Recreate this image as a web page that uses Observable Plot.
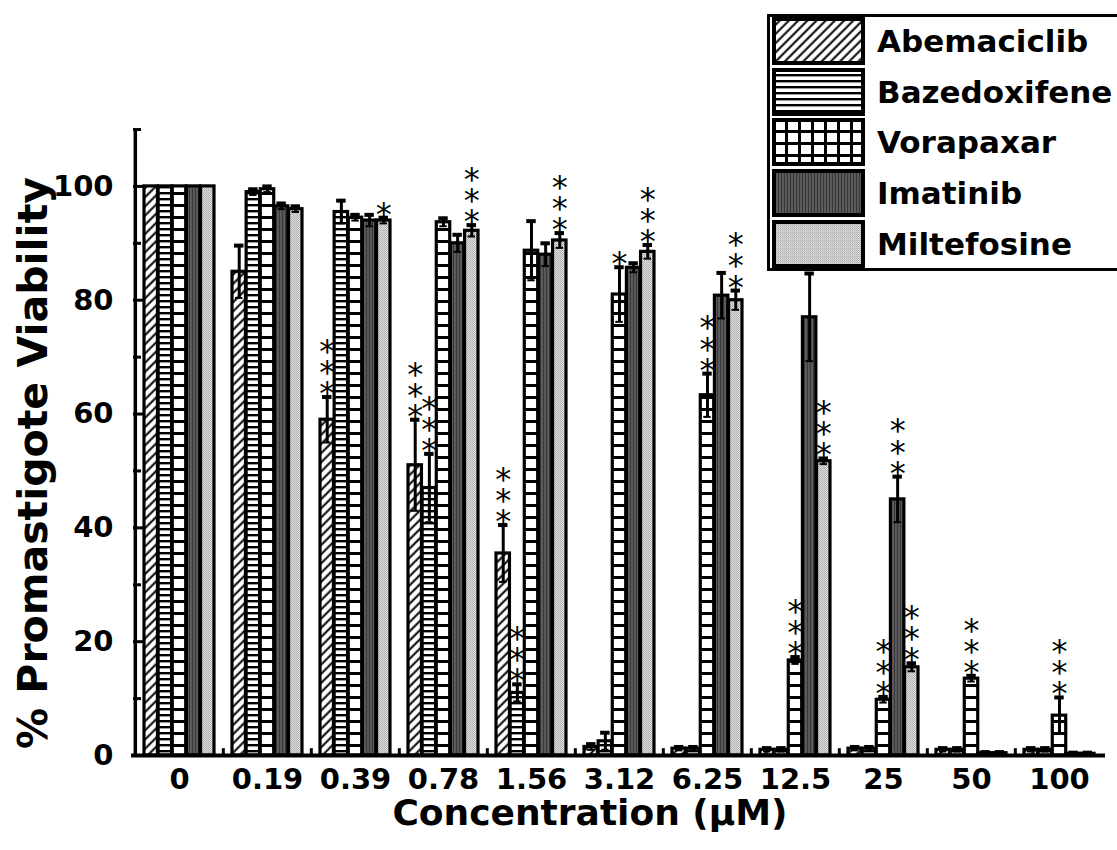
<!DOCTYPE html>
<html>
<head>
<meta charset="utf-8">
<script src="https://cdn.jsdelivr.net/npm/d3@7"></script>
<script src="https://cdn.jsdelivr.net/npm/@observablehq/plot@0.6"></script>
<style>
  body { margin: 0; background: #fff; }
  #wrap { position: relative; width: 1117px; height: 850px; overflow: hidden; background: #fff; font-family: "DejaVu Sans", sans-serif; }
  #legend { position: absolute; left: 767px; top: 14px; width: 360px; height: 251px; border: 3px solid #000; background: #fff; box-sizing: content-box; }
  .lg-text { position: absolute; left: 877px; font-size: 31px; font-weight: bold; line-height: 48px; height: 48px; white-space: nowrap; color: #000; }
  .lg-swatch { position: absolute; left: 772px; }
  #ytitle { position: absolute; left: 33px; top: 463px; transform: translate(-50%, -50%) rotate(-90deg); font-size: 41px; font-weight: bold; white-space: nowrap; }
  #xtitle { position: absolute; left: 590px; top: 794px; transform: translateX(-50%); font-size: 36px; font-weight: bold; white-space: nowrap; line-height: 38px; }
  #defs { position: absolute; width: 0; height: 0; }
</style>
</head>
<body>
<div id="wrap">
  <svg id="defs" width="0" height="0">
    <defs>
      <pattern id="pAbe" patternUnits="userSpaceOnUse" width="6.5" height="6.5" patternTransform="rotate(45)">
        <rect width="6.5" height="6.5" fill="#fff"/>
        <line x1="1.5" y1="0" x2="1.5" y2="6.5" stroke="#000" stroke-width="2"/>
      </pattern>
      <pattern id="pBaz" patternUnits="userSpaceOnUse" width="6" height="6">
        <rect width="6" height="6" fill="#fff"/>
        <rect y="0" width="6" height="2.4" fill="#000"/>
      </pattern>
      <pattern id="pVor" patternUnits="userSpaceOnUse" width="12" height="12">
        <rect width="12" height="12" fill="#fff"/>
        <rect y="0" width="12" height="3" fill="#000"/>
      </pattern>
      <pattern id="pVorLeg" patternUnits="userSpaceOnUse" width="13" height="12">
        <rect width="13" height="12" fill="#fff"/>
        <rect y="0" width="13" height="3" fill="#000"/>
        <rect x="0" width="3" height="12" fill="#000"/>
      </pattern>
      <pattern id="pIma" patternUnits="userSpaceOnUse" width="3" height="3">
        <rect width="3" height="3" fill="#5a5a5a"/>
        <rect width="1" height="3" fill="#383838"/>
      </pattern>
      <pattern id="pMil" patternUnits="userSpaceOnUse" width="2" height="2">
        <rect width="2" height="2" fill="#dedede"/>
        <rect width="1" height="1" fill="#a8a8a8"/>
        <rect x="1" y="1" width="1" height="1" fill="#bcbcbc"/>
      </pattern>
    </defs>
  </svg>
  <div id="chart"></div>
  <div id="legend"></div>
  <div id="ytitle">% Promastigote Viability</div>
  <div id="xtitle">Concentration (µM)</div>
</div>
<script>
// ---------------- data ----------------
const concs = ["0", "0.19", "0.39", "0.78", "1.56", "3.12", "6.25", "12.5", "25", "50", "100"];
const drugs = ["Abemaciclib", "Bazedoxifene", "Vorapaxar", "Imatinib", "Miltefosine"];

const abemaciclib    = [100, 85,   59,   51,   35.5, 1.5, 1.2,  1,    1.2,  1,    1];
const abemaciclibErr = [0,   4.6,  4,    8,    5,    0.5, 0.3,  0.3,  0.3,  0.3,  0.3];
const bazedoxifene    = [100, 99,  95.5, 47,   11,   2.5, 1.2,  1,    1.2,  1,    1];
const bazedoxifeneErr = [0,   0.5, 2,    6,    1.5,  1.5, 0.3,  0.3,  0.3,  0.3,  0.3];
const vorapaxar    = [100, 99.5, 94.5, 93.7, 88.7, 81,  63.3, 16.7, 9.8,  13.5, 7];
const vorapaxarErr = [0,   0.5,  0.5,  0.7,  5.2,  4.8, 3.8,  0.6,  0.5,  0.5,  3.2];
const imatinib    = [100, 96.5, 94,   90,   88,   85.7, 80.8, 77,  45,   0.4,  0.3];
const imatinibErr = [0,   0.5,  1,    1.5,  2,    0.8,  4,    7.7, 4,    0.2,  0.2];
const miltefosine    = [100, 96,  94,   92.2, 90.5, 88.5, 80,  51.7, 15.5, 0.4, 0.3];
const miltefosineErr = [0,   0.5, 0.5,  1,    1.3,  1.2,  1.7, 0.5,  0.7,  0.2, 0.2];

const abemaciclibSig  = ["", "", "***", "***", "***", "", "", "", "", "", ""];
const bazedoxifeneSig = ["", "", "", "***", "***", "", "", "", "", "", ""];
const vorapaxarSig    = ["", "", "", "", "", "*", "***", "***", "***", "***", "***"];
const imatinibSig     = ["", "", "", "", "", "", "", "", "***", "", ""];
const miltefosineSig  = ["", "", "*", "***", "***", "***", "***", "***", "***", "", ""];

const yMajorTicks = [0, 20, 40, 60, 80, 100];
const yMinorTicks = [10, 30, 50, 70, 90, 110];

// ---------------- build table ----------------
const values = [abemaciclib, bazedoxifene, vorapaxar, imatinib, miltefosine];
const errors = [abemaciclibErr, bazedoxifeneErr, vorapaxarErr, imatinibErr, miltefosineErr];
const sigs = [abemaciclibSig, bazedoxifeneSig, vorapaxarSig, imatinibSig, miltefosineSig];
const fills = ["url(#pAbe)", "url(#pBaz)", "url(#pVor)", "url(#pIma)", "url(#pMil)"];
const legendFills = ["url(#pAbe)", "url(#pBaz)", "url(#pVorLeg)", "url(#pIma)", "url(#pMil)"];

const rows = [];
drugs.forEach((drug, j) => concs.forEach((conc, i) => rows.push({
  drug, j, conc, value: values[j][i], err: errors[j][i], sig: sigs[j][i]
})));

// ---------------- layout ----------------
const W = 1117, H = 850, mL = 133, mR = 12, mT = 129, mB = 95;
const xs = Plot.scale({x: {type: "band", domain: concs, range: [mL, W - mR], paddingInner: 0.2, paddingOuter: 0.1}});
const bw = xs.bandwidth;
const step = xs.step;
const sub = bw / drugs.length;
const frameW = W - mL - mR;

const marks = [];
drugs.forEach((drug, j) => {
  const data = rows.filter(r => r.j === j);
  marks.push(Plot.barY(data, {
    x: "conc", y1: 0, y2: "value", fill: fills[j], stroke: "#000", strokeWidth: 3.2,
    insetLeft: j * sub, insetRight: (drugs.length - 1 - j) * sub
  }));
});
drugs.forEach((drug, j) => {
  const data = rows.filter(r => r.j === j && r.err > 0);
  const dx = (j - (drugs.length - 1) / 2) * sub;
  marks.push(Plot.ruleX(data, {x: "conc", y1: d => d.value - d.err, y2: d => d.value + d.err, dx, strokeWidth: 3}));
  marks.push(Plot.tickY(data, {x: "conc", y: d => d.value + d.err, strokeWidth: 4,
    insetLeft: j * sub + 2, insetRight: (drugs.length - 1 - j) * sub + 2}));
  marks.push(Plot.tickY(data, {x: "conc", y: d => d.value - d.err, strokeWidth: 2,
    insetLeft: j * sub + 3, insetRight: (drugs.length - 1 - j) * sub + 3}));
  const sdata = rows.filter(r => r.j === j && r.sig);
  marks.push(Plot.text(sdata, {
    x: "conc", y: d => d.value + d.err, dx, dy: 7,
    text: d => d.sig.split("").join("\n"),
    lineAnchor: "bottom", lineHeight: 0.66, fontSize: 32, fontFamily: "DejaVu Sans", fontWeight: "normal", fill: "#000"
  }));
});
// axes
marks.push(Plot.ruleY([0], {strokeWidth: 4, insetLeft: -2}));
marks.push(Plot.ruleX([concs[0]], {y1: 0, y2: 110, strokeWidth: 3.5, dx: mL - (xs.apply(concs[0]) + bw / 2)}));
marks.push(Plot.tickY(yMajorTicks, {y: d => d, insetRight: frameW - 11, strokeWidth: 3}));
marks.push(Plot.tickY(yMinorTicks, {y: d => d, insetRight: frameW - 8, strokeWidth: 3}));
marks.push(Plot.ruleX(concs.slice(1), {x: d => d, dx: -step / 2, y1: 0, y2: 1.2, strokeWidth: 3}));
marks.push(Plot.axisY({ticks: yMajorTicks, tickSize: 0, tickPadding: 20, fontSize: 29, fontWeight: "bold", label: null}));
marks.push(Plot.axisX({tickSize: 0, tickPadding: 13, fontSize: 29, fontWeight: "bold", label: null}));

const chart = Plot.plot({
  width: W, height: H, marginLeft: mL, marginRight: mR, marginTop: mT, marginBottom: mB,
  x: {domain: concs, paddingInner: 0.2, paddingOuter: 0.1},
  y: {domain: [0, 110]},
  style: {fontFamily: "DejaVu Sans", background: "#fff", color: "#000", overflow: "visible"},
  marks
});
document.getElementById("chart").appendChild(chart);

// ---------------- legend ----------------
const wrap = document.getElementById("wrap");
const rowTops = [17, 68, 118, 169, 220];
drugs.forEach((drug, j) => {
  const sw = d3.create("svg").attr("class", "lg-swatch").attr("width", 93).attr("height", 48)
    .style("top", rowTops[j] + "px");
  sw.append("rect").attr("x", 2).attr("y", 2).attr("width", 89).attr("height", 44)
    .attr("fill", legendFills[j]).attr("stroke", "#000").attr("stroke-width", 4);
  wrap.appendChild(sw.node());
  const t = document.createElement("div");
  t.className = "lg-text";
  t.style.top = rowTops[j] + "px";
  t.textContent = drug;
  wrap.appendChild(t);
});
</script>
</body>
</html>
